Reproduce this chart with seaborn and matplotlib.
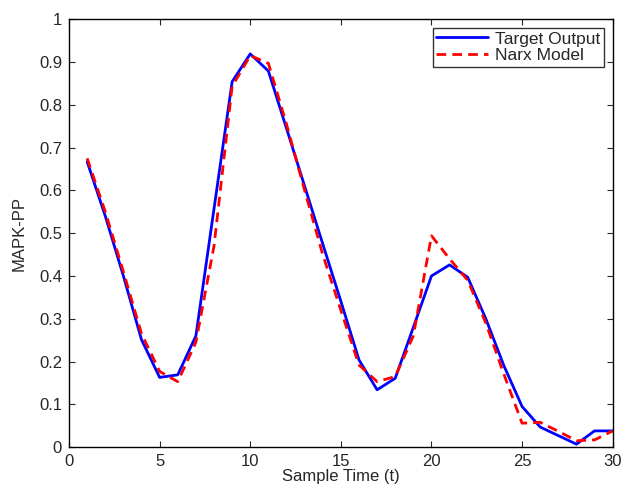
import numpy as np
import pandas as pd
import matplotlib
matplotlib.use('Agg')
import matplotlib.pyplot as plt
import seaborn as sns

# sample times and the two series
t = list(range(1, 31))
target = [0.667, 0.54, 0.40, 0.251, 0.163, 0.169, 0.26, 0.557, 0.854, 0.919,
          0.879, 0.745, 0.61, 0.475, 0.341, 0.204, 0.134, 0.161, 0.28, 0.40,
          0.426, 0.397, 0.30, 0.19, 0.095, 0.047, 0.027, 0.007, 0.038, 0.038]
narx = [0.675, 0.55, 0.41, 0.265, 0.177, 0.153, 0.245, 0.47, 0.843, 0.915,
        0.897, 0.755, 0.60, 0.45, 0.32, 0.192, 0.153, 0.165, 0.26, 0.494,
        0.44, 0.39, 0.29, 0.17, 0.056, 0.058, 0.037, 0.015, 0.017, 0.038]

df = pd.DataFrame({'t': t + t,
                   'value': target + narx,
                   'series': ['Target Output'] * len(t) + ['Narx Model'] * len(t)})

sns.set_style('ticks')
plt.rcParams['font.family'] = ['Liberation Sans', 'DejaVu Sans']
plt.rcParams['xtick.direction'] = 'in'
plt.rcParams['ytick.direction'] = 'in'

fig = plt.figure(figsize=(6.22, 4.93), dpi=100)
ax = fig.add_axes([0.111, 0.093, 0.874, 0.868])

sns.lineplot(data=df, x='t', y='value', hue='series', style='series',
             palette={'Target Output': '#0000ff', 'Narx Model': '#ff0000'},
             dashes={'Target Output': '', 'Narx Model': (3.5, 2.2)},
             linewidth=2.0, ax=ax)

ax.set_xlim(0, 30)
ax.set_ylim(0, 1)
ax.set_xticks(np.arange(0, 31, 5))
ax.set_yticks(np.arange(0, 1.01, 0.1))
ax.set_yticklabels(['0', '0.1', '0.2', '0.3', '0.4', '0.5', '0.6', '0.7', '0.8', '0.9', '1'])
ax.tick_params(labelsize=12, top=True, right=True, length=4, width=0.8, pad=5)
ax.set_xlabel('Sample Time (t)', fontsize=12, labelpad=0)
ax.set_ylabel('MAPK-PP', fontsize=12, labelpad=9)
for s in ax.spines.values():
    s.set_visible(True)
    s.set_linewidth(1.0)
    s.set_color('black')

leg = ax.legend(loc='upper right', fontsize=12.5, frameon=True, fancybox=False,
                edgecolor='black', borderaxespad=0.5, handlelength=3.0,
                borderpad=0.2, labelspacing=0.1, handletextpad=0.4)
leg.get_frame().set_linewidth(1.0)

fig.savefig('out.png', dpi=100)
